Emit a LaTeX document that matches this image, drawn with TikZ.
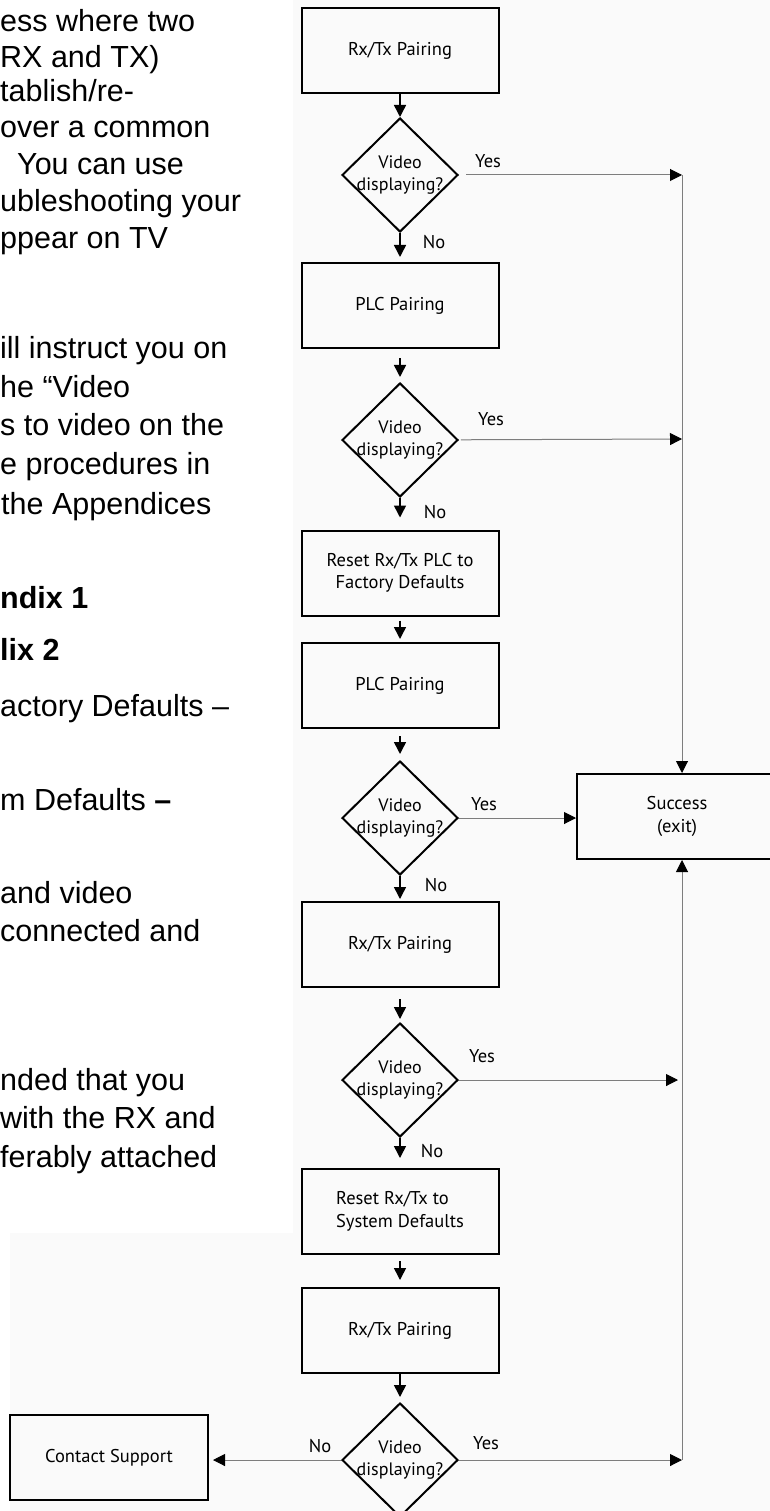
\documentclass[tikz,border=0pt]{standalone}
\usepackage{fontspec}
\setmainfont{Liberation Sans}
\newfontfamily\chartfont{PT Sans}
\usetikzlibrary{shapes.geometric,arrows.meta}

\definecolor{paper}{RGB}{250,250,250}
\definecolor{thinline}{RGB}{125,125,125}

\tikzset{
	box/.style={draw, line width=2pt, minimum width=197pt, minimum height=85pt, inner sep=0pt, align=center, font=\chartfont\fontsize{18.5}{22.5}\selectfont},
	dec/.style={draw, diamond, line width=2pt, minimum width=116pt, minimum height=114pt, inner sep=0pt},
	qtext/.style={inner sep=0pt, align=center, font=\chartfont\fontsize{18}{22}\selectfont},
	lbl/.style={inner sep=0pt, font=\chartfont\fontsize{18.5}{20}\selectfont},
	flow/.style={line width=1.5pt, -{Triangle[length=12pt,width=12pt]}},
	yesline/.style={draw=thinline, line width=1pt, -{Triangle[length=12pt,width=12pt,color=black]}},
	body/.style={anchor=base west, inner sep=0pt, font=\fontsize{30.5}{36}\selectfont}
}

\begin{document}
\begin{tikzpicture}[x=1pt,y=-1pt]
	
	\useasboundingbox (0,0) rectangle (770,1511);
	\fill[paper] (293,0) -- (770,0) -- (770,1511) -- (10,1511) -- (10,1233) -- (293,1233) -- cycle;
	
	% text of the page, cut at the left
	\node[body] (t1) at (0,32) {ess where two};
	\node[body] (t2) at (0,68) {RX and TX)};
	\node[body] (t3) at (0,102) {tablish/re-};
	\node[body] (t4) at (0,138) {over a common};
	\node[body] (t5) at (17,175) {You can use};
	\node[body] (t6) at (0,212) {ubleshooting your};
	\node[body] (t7) at (0,249) {ppear on TV};
	\node[body] (t8) at (0,358) {ill instruct you on};
	\node[body] (t9) at (0,397) {he “Video};
	\node[body] (t10) at (0,435) {s to video on the};
	\node[body] (t11) at (0,474) {e procedures in};
	\node[body] (t12) at (1,514) {the Appendices};
	\node[body] (t13) at (0,608) {\bfseries ndix 1};
	\node[body] (t14) at (0,660) {\bfseries lix 2};
	\node[body] (t15) at (0,716) {actory Defaults –};
	\node[body] (t16) at (0,810) {m Defaults \textbf{–}};
	\node[body] (t17) at (0,903) {and video};
	\node[body] (t18) at (0,941) {connected and};
	\node[body] (t19) at (0,1090) {nded that you};
	\node[body] (t20) at (0,1128) {with the RX and};
	\node[body] (t21) at (0,1167) {ferably attached};
	
	% chart
	\node[box] (b1) at (400,51) {Rx/Tx Pairing};
	\node[dec, label={[qtext]center:Video\\displaying?}] (d1) at (400,175) {};
	\node[box] (b2) at (400,305.5) {PLC Pairing};
	\node[dec, label={[qtext]center:Video\\displaying?}] (d2) at (400,440) {};
	\node[box] (b3) at (400,573) {Reset Rx/Tx PLC to\\Factory Defaults};
	\node[box] (b4) at (400,685.5) {PLC Pairing};
	\node[dec, label={[qtext]center:Video\\displaying?}] (d3) at (400,818) {};
	\node[box] (b5) at (400,944.5) {Rx/Tx Pairing};
	\node[dec, label={[qtext]center:Video\\displaying?}] (d4) at (400,1080) {};
	\node[box, align=left] (b6) at (400,1211.5) {Reset Rx/Tx to\\System Defaults};
	\node[box] (b7) at (400,1330.5) {Rx/Tx Pairing};
	\node[dec, label={[qtext]center:Video\\displaying?}] (d5) at (400,1460) {};
	
	\node[box, minimum width=200pt] (succ) at (677,816.5) {Success\\(exit)};
	\node[box, minimum width=198pt] (cs) at (109,1457.5) {Contact Support};
	
	\coordinate (j1) at (682,175);
	\coordinate (j2) at (682,439);
	\coordinate (j4) at (682,1080);
	\coordinate (j5) at (682,1460);
	
	\node[lbl] (y1) at (488,161) {Yes};
	\node[lbl] (n1) at (434,242) {No};
	\node[lbl] (y2) at (491,419) {Yes};
	\node[lbl] (n2) at (435,512) {No};
	\node[lbl] (y3) at (484,804) {Yes};
	\node[lbl] (n3) at (436,885) {No};
	\node[lbl] (y4) at (482,1056) {Yes};
	\node[lbl] (n4) at (432,1151) {No};
	\node[lbl] (y5) at (486,1443) {Yes};
	\node[lbl] (n5) at (320,1446) {No};
	
	\draw[flow] (b1) -- (d1);
	\draw[flow, shorten >=5pt] (d1) -- (b2);
	\draw[flow, shorten <=9pt, shorten >=5pt] (b2) -- (d2);
	\draw[flow, shorten >=12pt] (d2) -- (b3);
	\draw[flow, shorten <=4pt, shorten >=3pt] (b3) -- (b4);
	\draw[flow, shorten <=7pt, shorten >=6pt] (b4) -- (d3);
	\draw[flow, shorten >=2pt] (d3) -- (b5);
	\draw[flow, shorten <=11pt, shorten >=3pt] (b5) -- (d4);
	\draw[flow, shorten >=10pt] (d4) -- (b6);
	\draw[flow, shorten <=6pt, shorten >=7pt] (b6) -- (b7);
	\draw[flow, shorten >=5pt] (b7) -- (d5);
	
	\draw[yesline, shorten <=7pt] (d1) -- (j1);
	\draw[yesline, shorten <=2pt] (d2) -- (j2);
	\draw[yesline] (d3.east) -- (d3.east -| succ.west);
	\draw[yesline, shorten >=4pt] (d4) -- (j4);
	\draw[yesline] (d5) -- (j5);
	\draw[yesline, shorten >=4pt] (d5.west) -- (d5.west -| cs.east);
	\draw[yesline] (j1) -- (j1 |- succ.north);
	\draw[yesline] (j5) -- (j5 |- succ.south);
	
\end{tikzpicture}
\end{document}
